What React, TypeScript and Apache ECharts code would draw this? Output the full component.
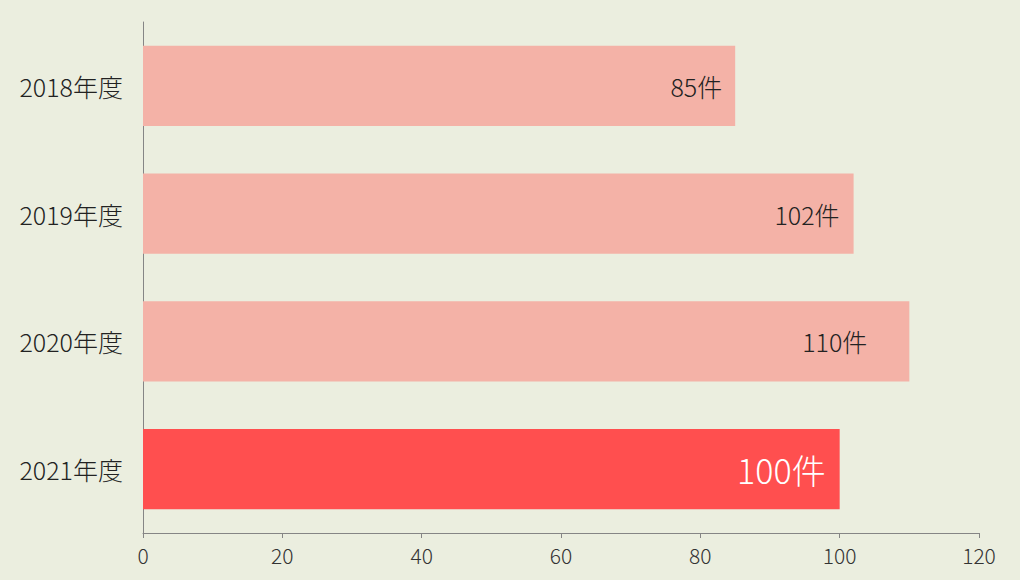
import React, { useEffect, useRef } from "react";
import * as echarts from "echarts";

const categories = ["2018年度", "2019年度", "2020年度", "2021年度"];
const values = [85, 102, 110, 100];
const labelTexts = ["85件", "102件", "110件", "100件"];
const xTicks = [0, 20, 40, 60, 80, 100, 120];

const FONT = "'Noto Sans CJK JP', 'Noto Sans', sans-serif";

export default function App() {
  const ref = useRef<HTMLDivElement>(null);
  useEffect(() => {
    document.body.style.margin = "0";
    const chart = echarts.init(ref.current!, null, { renderer: "svg" });
    const light = "#F4B2A7";
    const strong = "#FF4F4F";
    const distances = [13, 14, 42, 14];
    chart.setOption({
      animation: false,
      backgroundColor: "#EBEEDF",
      grid: { left: 143, right: 41, top: 22, bottom: 47, containLabel: false },
      xAxis: {
        type: "value",
        min: xTicks[0],
        max: xTicks[xTicks.length - 1],
        interval: 20,
        splitLine: { show: false },
        axisLine: { show: true, lineStyle: { color: "#858585", width: 1 } },
        axisTick: { show: true, length: 5, lineStyle: { color: "#858585" } },
        axisLabel: { color: "#333", fontSize: 21, fontWeight: 300, fontFamily: FONT, margin: 11 },
      },
      yAxis: {
        type: "category",
        data: categories,
        inverse: true,
        axisLine: { show: true, lineStyle: { color: "#858585", width: 1 } },
        axisTick: { show: false },
        axisLabel: { color: "#222", fontSize: 25, fontWeight: 300, fontFamily: FONT, margin: 20 },
      },
      series: [
        {
          type: "bar",
          barCategoryGap: "37%",
          data: values.map((v, i) => {
            const isLast = i === values.length - 1;
            return {
              value: v,
              itemStyle: { color: isLast ? strong : light },
              label: {
                show: true,
                position: "insideRight",
                distance: distances[i],
                formatter: () => labelTexts[i],
                color: isLast ? "#ffffff" : "#222",
                fontSize: isLast ? 34 : 25,
                fontWeight: 300,
                fontFamily: FONT,
              },
            };
          }),
        },
      ],
    });
    return () => chart.dispose();
  }, []);
  return <div ref={ref} style={{ width: 1020, height: 580 }} />;
}
